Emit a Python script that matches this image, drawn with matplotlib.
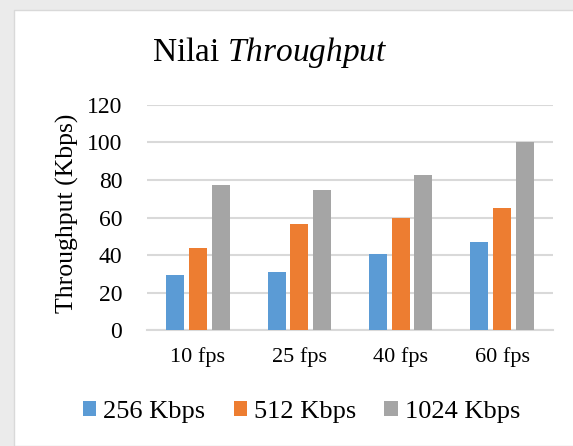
import matplotlib.pyplot as plt
import matplotlib.patches as mpatches
import numpy as np

plt.rcParams["font.family"] = ["Liberation Serif", "DejaVu Serif"]
plt.rcParams["mathtext.fontset"] = "custom"
plt.rcParams["mathtext.rm"] = "Liberation Serif"
plt.rcParams["mathtext.it"] = "Liberation Serif:italic"

categories = ["10 fps", "25 fps", "40 fps", "60 fps"]
labels = ["256 Kbps", "512 Kbps", "1024 Kbps"]
kbps_256 = [29.2, 30.9, 40.5, 47.1]
kbps_512 = [43.9, 56.5, 59.5, 65.2]
kbps_1024 = [77.5, 74.7, 82.7, 100.1]
yticks = [0, 20, 40, 60, 80, 100, 120]

COLORS = ["#5b9bd5", "#ed7d31", "#a5a5a5"]
GRID = "#d9d9d9"

fig = plt.figure(figsize=(5.73, 4.46), dpi=100, facecolor="#ebebeb")
# white chart area
fig.patches.append(
    mpatches.Rectangle(
        (14 / 573, 0), 1.0, 1 - 10 / 446,
        transform=fig.transFigure, facecolor="white",
        edgecolor=GRID, linewidth=1.0, zorder=-5,
    )
)

ax = fig.add_axes([147.3 / 573, 1 - 330.3 / 446, 405.4 / 573, 225.6 / 446])
ax.set_zorder(2)
x = np.arange(len(categories))
w = 0.178
step = 0.223
for i, ys in enumerate([kbps_256, kbps_512, kbps_1024]):
    ax.bar(x + (i - 1) * step, ys, w, color=COLORS[i], label=labels[i], zorder=3)

ax.set_xlim(-0.5, len(categories) - 0.5)
ax.set_ylim(0, 120)
ax.set_yticks(yticks)
ax.set_xticks(x)
ax.set_xticklabels(categories)
ax.tick_params(length=0, colors="black")
ax.tick_params(axis="y", pad=18, labelsize=17)
ax.tick_params(axis="x", pad=12, labelsize=16)
ax.yaxis.grid(True, color=GRID, linewidth=1.5, zorder=0)
for s in ["top", "right", "left"]:
    ax.spines[s].set_visible(False)
ax.spines["bottom"].set_color(GRID)
ax.spines["bottom"].set_linewidth(1.5)
ax.set_facecolor("none")
ax.set_ylabel("Throughput (Kbps)", fontsize=18.5)
ax.yaxis.set_label_coords(-(147.3 - 79) / 405.4, 0.52)

fig.text(270 / 573, 1 - 52 / 446, "Nilai $\\mathit{Throughput}$", fontsize=24,
         ha="center", va="center")
fig.legend(loc="center", bbox_to_anchor=(301.5 / 573, 1 - 412 / 446), ncol=3,
           frameon=False, fontsize=19, handlelength=0.5, handleheight=0.5,
           handletextpad=0.27, columnspacing=1.07)

fig.savefig("out.png", dpi=100, facecolor=fig.get_facecolor())
